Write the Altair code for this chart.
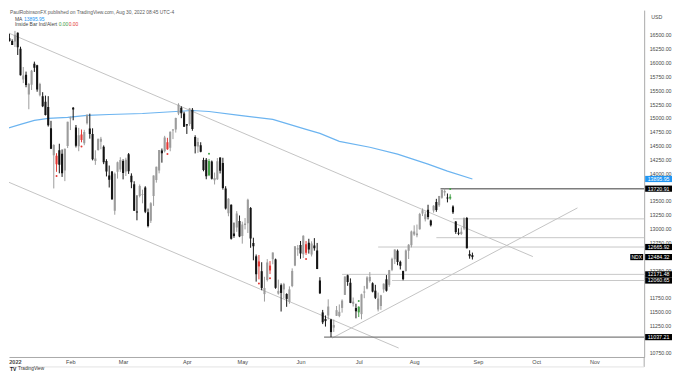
import altair as alt
import pandas as pd

# ---------------- data ----------------
first_index = -3  # first three bars are the last sessions of Dec 2021

opens = [16420, 16440, 16390,
         16382, 16540, 16250, 15695, 15780, 15423, 15600, 15978, 15950, 15411, 15393, 15290, 15198, 14814, 14323, 14315, 14414, 14354, 14049, 14494,
         14990, 15183, 14825, 14487, 14702, 14542, 14902, 14807, 14709, 14223, 14420, 14567, 14480, 14223, 13957, 14030, 13322, 14026, 14067,
         14220, 14032, 14343, 13954, 13800, 13304, 13587, 13615, 13742, 13295, 13141, 13587, 13879, 14048, 14410, 14396, 14560, 14462, 14775, 14792, 15080, 15183, 15080,
         14887, 14890, 15148, 14656, 14482, 14507, 14241, 14243, 13962, 14213, 13871, 13893, 14283, 14187, 13723, 13275, 13430, 12911, 13021, 13138,
         12866, 13063, 13097, 13372, 12739, 12498, 12405, 12229, 11815, 12070, 12330, 12446, 12443, 11824, 11977, 11900, 11817, 11676, 11960, 12331, 12620,
         12701, 12537, 12718, 12742, 12531, 12693, 12604, 12061, 11484, 11366, 11428, 11356, 11209, 11422, 11418, 11565, 11801, 12155, 12020, 11639, 11563,
         11485, 11453, 11842, 11915, 12051, 12011, 11877, 11537, 11600, 11900, 12082, 11982, 12253, 12445, 12598, 12398, 12232, 12232, 12600, 12696,
         12891, 12880, 12989, 13272, 13168, 13340, 13147, 13325, 13480, 13420, 13555, 13653, 13560, 13541, 13400, 13126, 12925, 12901, 13001, 13192, 12542, 12520]
highs = [16470, 16520, 16420,
         16573, 16545, 16287, 15920, 15837, 15632, 15868, 16017, 15960, 15635, 15465, 15403, 15393, 14947, 14524, 14362, 14533, 14430, 14445, 14930,
         15025, 15197, 14872, 14820, 14790, 14784, 15060, 15077, 14812, 14415, 14623, 14657, 14503, 14253, 14139, 14041, 14013, 14210, 14289,
         14252, 14280, 14365, 13998, 13855, 13602, 13797, 13703, 13765, 13361, 13477, 13960, 14118, 14420, 14447, 14676, 14640, 14755, 14800, 15004, 15265, 15210, 15111,
         14890, 15180, 15178, 14686, 14640, 14560, 14280, 14275, 14259, 14230, 14012, 14275, 14286, 14279, 13765, 13550, 13437, 13108, 13315, 13236,
         13124, 13190, 13539, 13388, 12834, 12531, 12522, 12391, 12128, 12447, 12412, 12568, 12457, 12077, 12007, 12018, 11830, 11955, 12280, 12681, 12703,
         12775, 12878, 12774, 12815, 12769, 12827, 12740, 12121, 11529, 11428, 11720, 11368, 11355, 11600, 11628, 11720, 12137, 12166, 12099, 11753, 11641,
         11595, 11822, 11963, 12139, 12213, 12028, 11983, 11843, 11802, 12008, 12159, 12252, 12473, 12624, 12621, 12420, 12239, 12622, 12719, 12963,
         13058, 13072, 13283, 13364, 13308, 13430, 13161, 13422, 13537, 13590, 13700, 13721, 13633, 13620, 13420, 13135, 13005, 13021, 13194, 13209, 12607, 12565]
lows = [16360, 16380, 16320,
        16281, 16137, 15766, 15629, 15554, 15157, 15504, 15831, 15473, 15389, 15195, 15044, 14843, 14437, 13725, 14025, 13998, 13933, 13857, 14455,
        14780, 14957, 14466, 14398, 14559, 14506, 14880, 14625, 14232, 14151, 14407, 14434, 14164, 13942, 13742, 13518, 13250, 13903, 14025,
        13889, 13950, 13987, 13729, 13317, 13149, 13563, 13456, 13279, 13021, 13101, 13410, 13830, 13998, 14191, 14375, 14422, 14397, 14617, 14735, 15050, 14995, 14838,
        14710, 14857, 14768, 14358, 14368, 14378, 14035, 13891, 13948, 13886, 13797, 13880, 13996, 13704, 13344, 13222, 12800, 12833, 12940, 12844,
        12727, 12985, 12920, 12652, 12426, 12040, 12081, 11885, 11680, 12043, 12177, 12354, 11911, 11806, 11500, 11736, 11585, 11640, 11940, 12320, 12507,
        12454, 12468, 12524, 12547, 12495, 12600, 12267, 11816, 11273, 11228, 11357, 11037, 11131, 11420, 11397, 11480, 11799, 11965, 11651, 11591, 11377,
        11400, 11360, 11741, 11901, 12023, 11846, 11725, 11502, 11530, 11840, 11860, 11947, 12230, 12358, 12337, 12260, 12064, 12223, 12449, 12660,
        12869, 12842, 12980, 13226, 13129, 13165, 13037, 13287, 13303, 13392, 13540, 13592, 13473, 13521, 13265, 12904, 12880, 12884, 12971, 12640, 12455, 12440]
closes = [16430, 16390, 16320,
          16501, 16279, 15772, 15765, 15593, 15614, 15854, 15905, 15514, 15612, 15211, 15051, 14869, 14441, 14511, 14163, 14151, 14001, 14441, 14930,
          15005, 15150, 14496, 14688, 14601, 14745, 15055, 14708, 14253, 14264, 14621, 14623, 14199, 14029, 13880, 13529, 13989, 14200, 14237,
          14005, 14244, 14034, 13838, 13320, 13292, 13770, 13619, 13302, 13047, 13458, 13957, 14118, 14420, 14362, 14646, 14434, 14750, 14787, 14999, 15239, 15083, 14839,
          14862, 15171, 14800, 14489, 14564, 14390, 14057, 13947, 14222, 13898, 13912, 14216, 14045, 13733, 13363, 13538, 12815, 12867, 13270, 12855,
          13075, 13093, 13522, 12820, 12682, 12174, 12316, 11926, 11925, 12387, 12243, 12565, 11928, 11873, 11836, 11996, 11728, 11901, 12234, 12681, 12643,
          12551, 12868, 12563, 12620, 12728, 12644, 12269, 11830, 11305, 11327, 11590, 11128, 11255, 11525, 11495, 11697, 12132, 12033, 11656, 11678, 11504,
          11586, 11811, 11862, 12116, 12126, 11860, 11748, 11734, 11793, 12003, 11876, 12249, 12452, 12619, 12396, 12327, 12085, 12602, 12705, 12947,
          12947, 12912, 13263, 13331, 13260, 13207, 13059, 13413, 13335, 13589, 13700, 13677, 13542, 13573, 13294, 12936, 12905, 12941, 13193, 12642, 12501, 12484]

inside_bar_index = [15, 24, 55, 70, 88, 92, 105, 124, 157]

ma_index = [-4, 2, 7, 12, 19, 26, 34, 46, 58, 64, 70, 81, 93, 99, 105, 110, 117, 128, 138, 149, 156, 165]
ma_value = [14793, 14883, 14955, 14991, 15009, 15045, 15062, 15080, 15116, 15134, 15116, 15045, 14973, 14883,
            14793, 14721, 14577, 14469, 14344, 14164, 14038, 13896]

month_tick_index = [0, 20, 39, 62, 82, 103, 124, 144, 167, 188, 209]
month_labels = ["2022", "Feb", "Mar", "Apr", "May", "Jun", "Jul", "Aug", "Sep", "Oct", "Nov"]

# price-scale labels visible in the reference (those hidden under price tags are left out)
price_ticks = [10750, 11250, 11500, 11750, 12250, 12750, 13000, 13250, 13500,
               14000, 14250, 14500, 14750, 15000, 15250, 15500, 15750, 16000, 16250, 16500]

level_price = [13720.91, 13175, 12835, 12665.92, 12171.48, 12060.65, 11037.21]
level_start = [153.5, 158, 152, 131, 118, 136, 111.5]
level_strong = [True, False, False, False, False, False, True]

trend_x1 = [-3.2, -3.2, 114.4]
trend_p1 = [16554, 13858, 11019]
trend_x2 = [186.8, 138.4, 202.9]
trend_p2 = [12493, 10840, 13373]

tag_price = [13895.95, 13720.91, 12665.92, 12484.32, 12171.48, 12060.65, 11037.21]
tag_is_ma = [True, False, False, False, False, False, False]
last_symbol = "NDX"
last_price = 12484.32

# ---------------- layout helpers ----------------
W, H = 639, 349
x_domain = [-2.151, 226.96]
y_domain = [10678, 16949]
FONT = "Liberation Sans"
TAG_HALF = 56  # half tag height in price units (~3 px)

xs = alt.Scale(domain=x_domain, nice=False, zero=False)
ys = alt.Scale(domain=y_domain, nice=False, zero=False)

# ---------------- tables ----------------
idx = [first_index + i for i in range(len(opens))]
rows = []
for i, o, h, l, c in zip(idx, opens, highs, lows, closes):
    up = c >= o
    ins = i in inside_bar_index
    if ins:
        col = "#43a047" if up else "#e53935"
    else:
        col = "#9c9c9c" if up else "#141414"
    lo, hi = min(o, c), max(o, c)
    if hi - lo < 16:
        mid = (hi + lo) / 2
        lo, hi = mid - 8, mid + 8
    rows.append(dict(i=i, o=o, h=h, l=l, c=c, lo=lo, hi=hi, col=col, inside=ins, up=up))
candles = pd.DataFrame(rows)

dots = candles[candles["inside"]].copy()
dots["dy"] = [r.h + 95 if r.up else r.l - 75 for r in dots.itertuples()]

ma_df = pd.DataFrame({"i": ma_index, "v": ma_value})

levels = pd.DataFrame({
    "i": level_start, "e": [x_domain[1] + 1] * len(level_start), "p": level_price,
    "col": ["#7d7d7d" if s else "#c8c8c8" for s in level_strong],
    "w": [1.5 if s else 1.0 for s in level_strong],
})

trends = pd.DataFrame({"i": trend_x1, "p": trend_p1, "x2": trend_x2, "p2": trend_p2})

tags = pd.DataFrame({
    "p": tag_price,
    "lo": [p - TAG_HALF for p in tag_price],
    "hi": [p + TAG_HALF for p in tag_price],
    "txt": ["%.2f" % p for p in tag_price],
    "col": ["#2196f3" if m else "#000000" for m in tag_is_ma],
})
sym = pd.DataFrame({"p": [last_price], "lo": [last_price - TAG_HALF], "hi": [last_price + TAG_HALF],
                    "txt": [last_symbol]})

# ---------------- axes (identical in every layer so they merge) ----------------
label_expr = ""
for v, lab in zip(month_tick_index, month_labels):
    label_expr += "datum.value == %d ? '%s' : " % (v, lab)
label_expr += "''"

x_axis = alt.Axis(values=month_tick_index, labelExpr=label_expr, title=None, ticks=False, grid=False,
                  domainColor="#a9a9a9", labelFontSize=5.6, labelColor="#4a4a4a", labelPadding=3,
                  labelFlush=False, labelOverlap=False, labelFont=FONT, zindex=0,
                  labelFontWeight={"condition": {"test": "datum.value === 0", "value": "bold"}, "value": "normal"})
y_axis = alt.Axis(orient="right", values=price_ticks, format=".2f", title=None, ticks=False, grid=False,
                  domainColor="#a9a9a9", labelFontSize=5.3, labelColor="#4a4a4a", labelPadding=5,
                  labelFont=FONT, labelOverlap=False, labelFlush=False, zindex=0)

X = lambda f: alt.X(f, scale=xs, axis=x_axis)
Y = lambda f: alt.Y(f, scale=ys, axis=y_axis)

# ---------------- layers ----------------
trend_layer = alt.Chart(trends).mark_rule(color="#c4c4c4", strokeWidth=1, clip=True).encode(
    x=X("i:Q"), x2="x2:Q", y=Y("p:Q"), y2="p2:Q")

level_layer = alt.Chart(levels).mark_rule(clip=True).encode(
    x=X("i:Q"), x2="e:Q", y=Y("p:Q"),
    color=alt.Color("col:N", scale=None), strokeWidth=alt.StrokeWidth("w:Q", scale=None))

ma_layer = alt.Chart(ma_df).mark_line(color="#6cb4f0", strokeWidth=1.2, clip=True).encode(
    x=X("i:Q"), y=Y("v:Q"))

wick_layer = alt.Chart(candles).mark_rule(strokeWidth=1, clip=True).encode(
    x=X("i:Q"), y=Y("l:Q"), y2="h:Q", color=alt.Color("col:N", scale=None))

body_layer = alt.Chart(candles).mark_rule(strokeWidth=2.1, clip=True).encode(
    x=X("i:Q"), y=Y("lo:Q"), y2="hi:Q", color=alt.Color("col:N", scale=None))

dot_layer = alt.Chart(dots).mark_circle(size=4, opacity=1, clip=True).encode(
    x=X("i:Q"), y=Y("dy:Q"), color=alt.Color("col:N", scale=None))

tag_box = alt.Chart(tags).mark_rect().encode(
    x=alt.value(640), x2=alt.value(667), y=Y("lo:Q"), y2="hi:Q", color=alt.Color("col:N", scale=None))
tag_text = alt.Chart(tags).mark_text(fontSize=5.3, color="white", align="center", baseline="middle", font=FONT).encode(
    x=alt.value(653.5), y=Y("p:Q"), text="txt:N")

sym_box = alt.Chart(sym).mark_rect(color="#000000").encode(
    x=alt.value(625), x2=alt.value(638), y=Y("lo:Q"), y2="hi:Q")
sym_text = alt.Chart(sym).mark_text(fontSize=5, color="white", align="center", baseline="middle", font=FONT).encode(
    x=alt.value(631.5), y=Y("p:Q"), text="txt:N")

# header / footer texts
def txt(s, x, y, color="#555555", size=5.0, weight="normal", align="left"):
    return alt.Chart(pd.DataFrame({"t": [s]})).mark_text(
        fontSize=size, color=color, align=align, baseline="middle", font=FONT, fontWeight=weight
    ).encode(x=alt.value(x), y=alt.value(y), text="t:N")

texts = [
    txt("PaulRobinsonFX published on TradingView.com, Aug 30, 2022 08:45 UTC-4", 1, 2.8, "#5a5a5a", 4.9),
    txt("MA", 6, 8.5, "#444444", 5.0),
    txt("13895.95", 15, 8.5, "#2196f3", 5.0),
    txt("Inside Bar Ind/Alert", 6, 14.5, "#444444", 5.0),
    txt("0.00", 50, 14.5, "#43a047", 5.0),
    txt("0.00", 60, 14.5, "#e53935", 5.0),
    txt("USD", 646, 7, "#4a4a4a", 5.3),
    txt("TradingView", 9, 361, "#333333", 4.8),
    txt("TV", 1, 361, "#131722", 5.0, "bold"),
]

frame = [
    alt.Chart(pd.DataFrame({"a": [0]})).mark_rule(color="#a9a9a9", strokeWidth=1).encode(
        x=alt.value(W), y=alt.value(H), y2=alt.value(H + 10)),
    alt.Chart(pd.DataFrame({"a": [0]})).mark_rule(color="#e3e3e3", strokeWidth=1).encode(
        x=alt.value(0), x2=alt.value(W), y=alt.value(H + 10)),
]

chart = alt.layer(
    trend_layer, level_layer, ma_layer, wick_layer, body_layer, dot_layer,
    sym_box, sym_text, tag_box, tag_text, *frame, *texts
).properties(width=W, height=H, padding=0, background="white").configure_view(stroke=None)

chart.save("out.html", embed_options={"renderer": "svg", "actions": False})
